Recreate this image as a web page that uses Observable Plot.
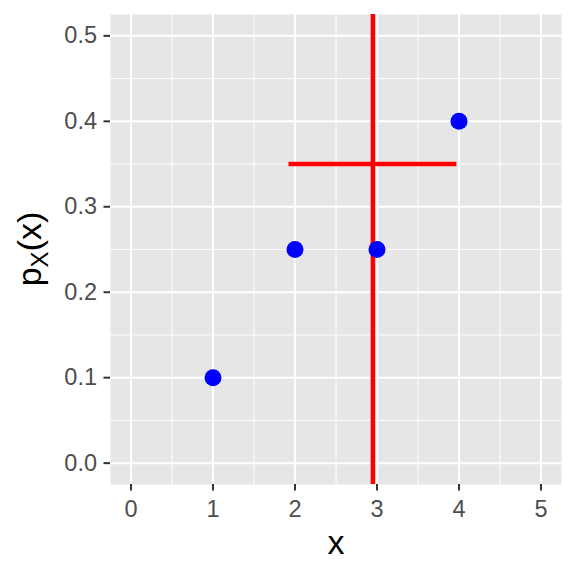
<!DOCTYPE html>
<html>
<head>
<meta charset="utf-8">
<script src="https://cdn.jsdelivr.net/npm/d3@7"></script>
<script src="https://cdn.jsdelivr.net/npm/@observablehq/plot@0.6"></script>
<style>
  html, body { margin: 0; padding: 0; background: #ffffff; }
  #chart { width: 576px; height: 576px; }
</style>
</head>
<body>
<div id="chart"></div>
<script>
// Data
const xValues = [1, 2, 3, 4];
const probValues = [0.1, 0.25, 0.25, 0.4];
const segmentY = 0.35;
const xTicks = [0, 1, 2, 3, 4, 5];
const yTicks = [0, 0.1, 0.2, 0.3, 0.4, 0.5];
const xMinor = [0.5, 1.5, 2.5, 3.5, 4.5];
const yMinor = [0.05, 0.15, 0.25, 0.35, 0.45];

const points = xValues.map((x, i) => ({x, p: probValues[i]}));
const meanX = d3.sum(points, d => d.x * d.p);
const sdX = Math.sqrt(d3.sum(points, d => d.x * d.x * d.p) - meanX * meanX);
const segment = [{y: segmentY, x1: meanX - sdX, x2: meanX + sdX}];

const font = "'Liberation Sans', Arial, Helvetica, sans-serif";

const chart = Plot.plot({
  width: 576,
  height: 576,
  marginLeft: 110,
  marginRight: 15,
  marginTop: 14,
  marginBottom: 92,
  style: {fontFamily: font, background: "#ffffff"},
  x: {domain: [-0.25, 5.25]},
  y: {domain: [-0.025, 0.525]},
  marks: [
    Plot.frame({fill: "#E6E6E6", stroke: null}),
    Plot.ruleX(xMinor, {stroke: "#ffffff", strokeWidth: 1}),
    Plot.ruleY(yMinor, {stroke: "#ffffff", strokeWidth: 1}),
    Plot.ruleX(xTicks, {stroke: "#ffffff", strokeWidth: 2}),
    Plot.ruleY(yTicks, {stroke: "#ffffff", strokeWidth: 2}),
    Plot.ruleX([meanX], {stroke: "#FF0000", strokeWidth: 4.5}),
    Plot.ruleY(segment, {y: "y", x1: "x1", x2: "x2", stroke: "#FF0000", strokeWidth: 4.5}),
    Plot.dot(points, {x: "x", y: "p", r: 8.5, fill: "#0000FF", stroke: null}),
    Plot.axisX({
      ticks: xTicks, tickFormat: d3.format("d"), tickSize: 6.5, tickPadding: 9,
      stroke: "#333333", strokeWidth: 2, fill: "#4D4D4D", fontSize: 23.5, label: null
    }),
    Plot.axisY({
      ticks: yTicks, tickFormat: d3.format(".1f"), tickSize: 6.5, tickPadding: 7,
      stroke: "#333333", strokeWidth: 2, fill: "#4D4D4D", fontSize: 23.5, label: null
    }),
    Plot.text(["x"], {frameAnchor: "bottom", dy: 69, fontSize: 34, fill: "#000000", lineAnchor: "bottom"})
  ]
});

// y-axis title with subscript
const svg = d3.select(chart);
const yt = svg.append("text")
  .attr("transform", "translate(41,249) rotate(-90)")
  .attr("text-anchor", "middle")
  .attr("font-family", font)
  .attr("font-size", 34)
  .attr("fill", "#000000");
yt.append("tspan").text("p");
yt.append("tspan").attr("font-size", 24).attr("dy", 7).text("X");
yt.append("tspan").attr("dy", -7).text("(x)");

document.getElementById("chart").appendChild(chart);
</script>
</body>
</html>
